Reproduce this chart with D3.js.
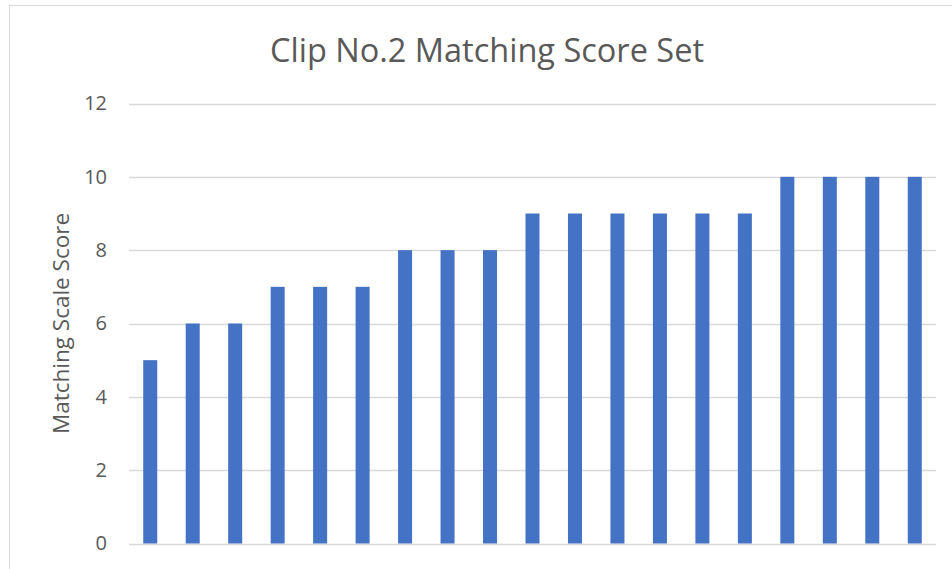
<!DOCTYPE html>
<html>
<head>
<meta charset="utf-8">
<script src="https://cdn.jsdelivr.net/npm/d3@7"></script>
<style>
  body { margin: 0; background: #fff; }
  svg text { font-family: "Open Sans", "Noto Sans", sans-serif; fill: #595959; }
</style>
</head>
<body>
<svg id="chart" width="952" height="569"></svg>
<script>
// clip 2 scores, one bar per matching set
var sets = d3.range(1, 20).map(String);
var scores = [5, 6, 6, 7, 7, 7, 8, 8, 8, 9, 9, 9, 9, 9, 9, 10, 10, 10, 10];
var yTicks = [0, 2, 4, 6, 8, 10, 12];

var svg = d3.select("#chart");
var plot = { left: 129, right: 936, top: 103.5, bottom: 543.5 };

// outer chart frame (only top & left visible in the crop)
svg.append("rect")
    .attr("x", 9.5).attr("y", 5.5)
    .attr("width", 960).attr("height", 600)
    .attr("fill", "none").attr("stroke", "#d9d9d9");

var x = d3.scaleBand()
    .domain(sets)
    .range([plot.left, plot.right])
    .paddingInner(0.67)
    .paddingOuter(0.335);

var y = d3.scaleLinear()
    .domain([0, 12])
    .range([plot.bottom, plot.top]);

// gridlines
svg.append("g").selectAll("line")
    .data(yTicks)
    .enter().append("line")
    .attr("x1", plot.left).attr("x2", plot.right)
    .attr("y1", function(d) { return Math.round(y(d)) + 0.5; })
    .attr("y2", function(d) { return Math.round(y(d)) + 0.5; })
    .attr("stroke", "#d9d9d9")
    .attr("stroke-width", 1.3);

// y axis labels
var yAxis = d3.axisLeft(y).tickValues(yTicks).tickSize(0).tickPadding(0);
var ya = svg.append("g")
    .attr("transform", "translate(107,0)")
    .call(yAxis);
ya.select(".domain").remove();
ya.selectAll("text")
    .attr("font-size", 20)
    .attr("fill", "#595959")
    .style("font-family", "'Open Sans', sans-serif");

// bars
svg.append("g").selectAll("rect")
    .data(scores)
    .enter().append("rect")
    .attr("x", function(d, i) { return x(sets[i]); })
    .attr("width", x.bandwidth())
    .attr("y", function(d) { return y(d); })
    .attr("height", function(d) { return y(0) - y(d); })
    .attr("fill", "#4472c4");

// title
svg.append("text")
    .attr("x", 487).attr("y", 62)
    .attr("text-anchor", "middle")
    .attr("font-size", 32.5)
    .text("Clip No.2 Matching Score Set");

// y axis title
svg.append("text")
    .attr("transform", "translate(69,323.5) rotate(-90)")
    .attr("text-anchor", "middle")
    .attr("font-size", 22.5)
    .text("Matching Scale Score");
</script>
</body>
</html>
